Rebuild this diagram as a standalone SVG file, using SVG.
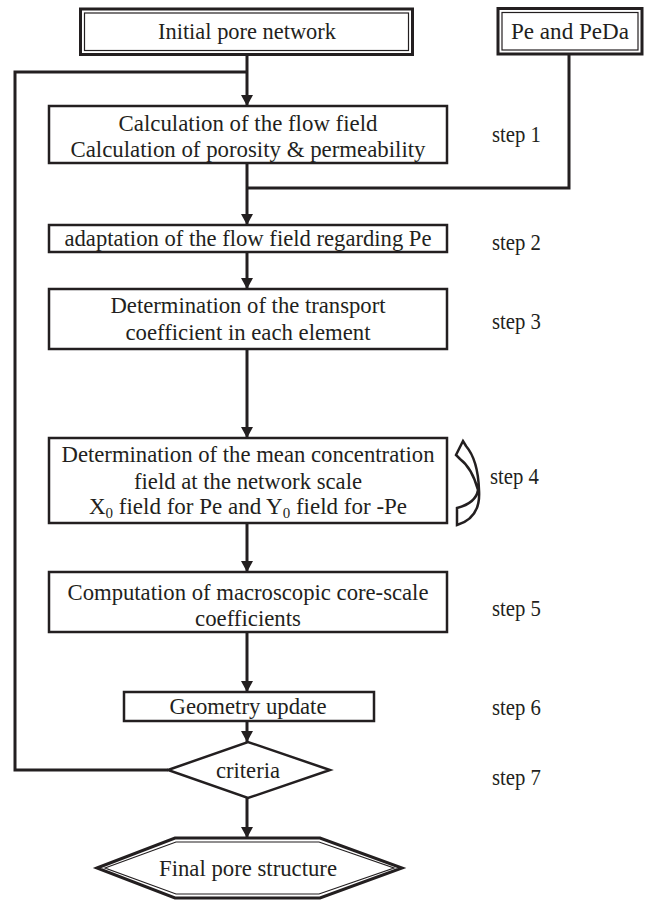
<svg xmlns="http://www.w3.org/2000/svg" width="649" height="900" viewBox="0 0 649 900">
<defs>
<style>
.box{fill:#fff;stroke:#231f20;stroke-width:2.5}
.thin{fill:none;stroke:#231f20;stroke-width:1.2}
.outer{fill:#fff;stroke:#231f20;stroke-width:3}
.con{fill:none;stroke:#231f20;stroke-width:3}
.t{font-family:"Liberation Serif","Times New Roman",serif;font-size:24px;fill:#231f20;text-anchor:middle}
.s{font-family:"Liberation Serif","Times New Roman",serif;font-size:24px;fill:#231f20}
.sub{font-size:15px;baseline-shift:-4px}
</style>
<marker id="ah" markerUnits="userSpaceOnUse" markerWidth="12" markerHeight="12" refX="11" refY="6" orient="auto">
<path d="M0,0 L11,6 L0,12 z" fill="#231f20"/>
</marker>
</defs>
<rect width="649" height="900" fill="#fff"/>
<g id="connectors">
<line class="con" x1="247" y1="55" x2="247" y2="106" marker-end="url(#ah)"/>
<polyline class="con" points="168,770 15,770 15,72 247,72"/>
<polyline class="con" points="569,55 569,188 247,188"/>
<line class="con" x1="247" y1="163" x2="247" y2="225" marker-end="url(#ah)"/>
<line class="con" x1="247" y1="252" x2="247" y2="289" marker-end="url(#ah)"/>
<line class="con" x1="247" y1="349" x2="247" y2="438" marker-end="url(#ah)"/>
<line class="con" x1="247" y1="523" x2="247" y2="572" marker-end="url(#ah)"/>
<line class="con" x1="247" y1="632" x2="247" y2="692" marker-end="url(#ah)"/>
<line class="con" x1="247" y1="721" x2="247" y2="742" marker-end="url(#ah)"/>
<line class="con" x1="247" y1="798" x2="247" y2="838" marker-end="url(#ah)"/>
</g>
<g id="initial">
<rect class="outer" x="80.5" y="9" width="332" height="45.5"/>
<rect class="thin" x="84.5" y="13" width="324" height="37.5"/>
<text class="t" x="247" y="39" textLength="178" lengthAdjust="spacingAndGlyphs">Initial pore network</text>
</g>
<g id="pe">
<rect class="outer" x="498" y="8.5" width="144" height="45.5"/>
<rect class="thin" x="502" y="12.5" width="136" height="37.5"/>
<text class="t" x="570" y="39" textLength="118" lengthAdjust="spacingAndGlyphs">Pe and PeDa</text>
</g>
<g id="step1">
<rect class="box" x="49" y="106" width="398" height="57"/>
<text class="t" x="248" y="131" textLength="259" lengthAdjust="spacingAndGlyphs">Calculation of the flow field</text>
<text class="t" x="248" y="157" textLength="355" lengthAdjust="spacingAndGlyphs">Calculation of porosity &amp; permeability</text>
<text class="s" x="492" y="142" textLength="49" lengthAdjust="spacingAndGlyphs">step 1</text>
</g>
<g id="step2">
<rect class="box" x="49" y="225" width="398" height="27"/>
<text class="t" x="248" y="246" textLength="367" lengthAdjust="spacingAndGlyphs">adaptation of the flow field regarding Pe</text>
<text class="s" x="492" y="250" textLength="49" lengthAdjust="spacingAndGlyphs">step 2</text>
</g>
<g id="step3">
<rect class="box" x="49" y="289" width="398" height="60"/>
<text class="t" x="248" y="313" textLength="275" lengthAdjust="spacingAndGlyphs">Determination of the transport</text>
<text class="t" x="248" y="340" textLength="245" lengthAdjust="spacingAndGlyphs">coefficient in each element</text>
<text class="s" x="492" y="329" textLength="49" lengthAdjust="spacingAndGlyphs">step 3</text>
</g>
<g id="step4">
<rect class="box" x="49" y="438" width="398" height="85"/>
<text class="t" x="248" y="462" textLength="373" lengthAdjust="spacingAndGlyphs">Determination of the mean concentration</text>
<text class="t" x="248" y="489" textLength="228" lengthAdjust="spacingAndGlyphs">field at the network scale</text>
<text class="t" x="248" y="514" style="font-size:23px">X<tspan class="sub">0</tspan> field for Pe and Y<tspan class="sub">0</tspan> field for -Pe</text>
<path d="M463,441 L456,455 L460,459 Q472,468 478,490 Q476,503 457,508 L457,525 Q481,518 479,490 Q478,460 466,446 Z" fill="#fff" stroke="#231f20" stroke-width="2.5" stroke-linejoin="miter"/>
<text class="s" x="490" y="484" textLength="49" lengthAdjust="spacingAndGlyphs">step 4</text>
</g>
<g id="step5">
<rect class="box" x="49" y="572" width="398" height="60"/>
<text class="t" x="248" y="600" textLength="361" lengthAdjust="spacingAndGlyphs">Computation of macroscopic core-scale</text>
<text class="t" x="248" y="626" textLength="106" lengthAdjust="spacingAndGlyphs">coefficients</text>
<text class="s" x="492" y="616" textLength="49" lengthAdjust="spacingAndGlyphs">step 5</text>
</g>
<g id="step6">
<rect class="box" x="124" y="692" width="250" height="29"/>
<text class="t" x="248" y="714" textLength="157" lengthAdjust="spacingAndGlyphs">Geometry update</text>
<text class="s" x="492" y="715" textLength="49" lengthAdjust="spacingAndGlyphs">step 6</text>
</g>
<g id="step7">
<polygon class="box" points="168,770 248,742 330,770 248,798"/>
<text class="t" x="248" y="778" textLength="64" lengthAdjust="spacingAndGlyphs">criteria</text>
<text class="s" x="492" y="785" textLength="49" lengthAdjust="spacingAndGlyphs">step 7</text>
</g>
<g id="final">
<polygon class="outer" points="97,868 175,838 320,838 402,868 320,898 175,898"/>
<polygon class="thin" points="105,868 176,842 319,842 394,868 319,894 176,894"/>
<text class="t" x="248" y="876" textLength="178" lengthAdjust="spacingAndGlyphs">Final pore structure</text>
</g>
</svg>
